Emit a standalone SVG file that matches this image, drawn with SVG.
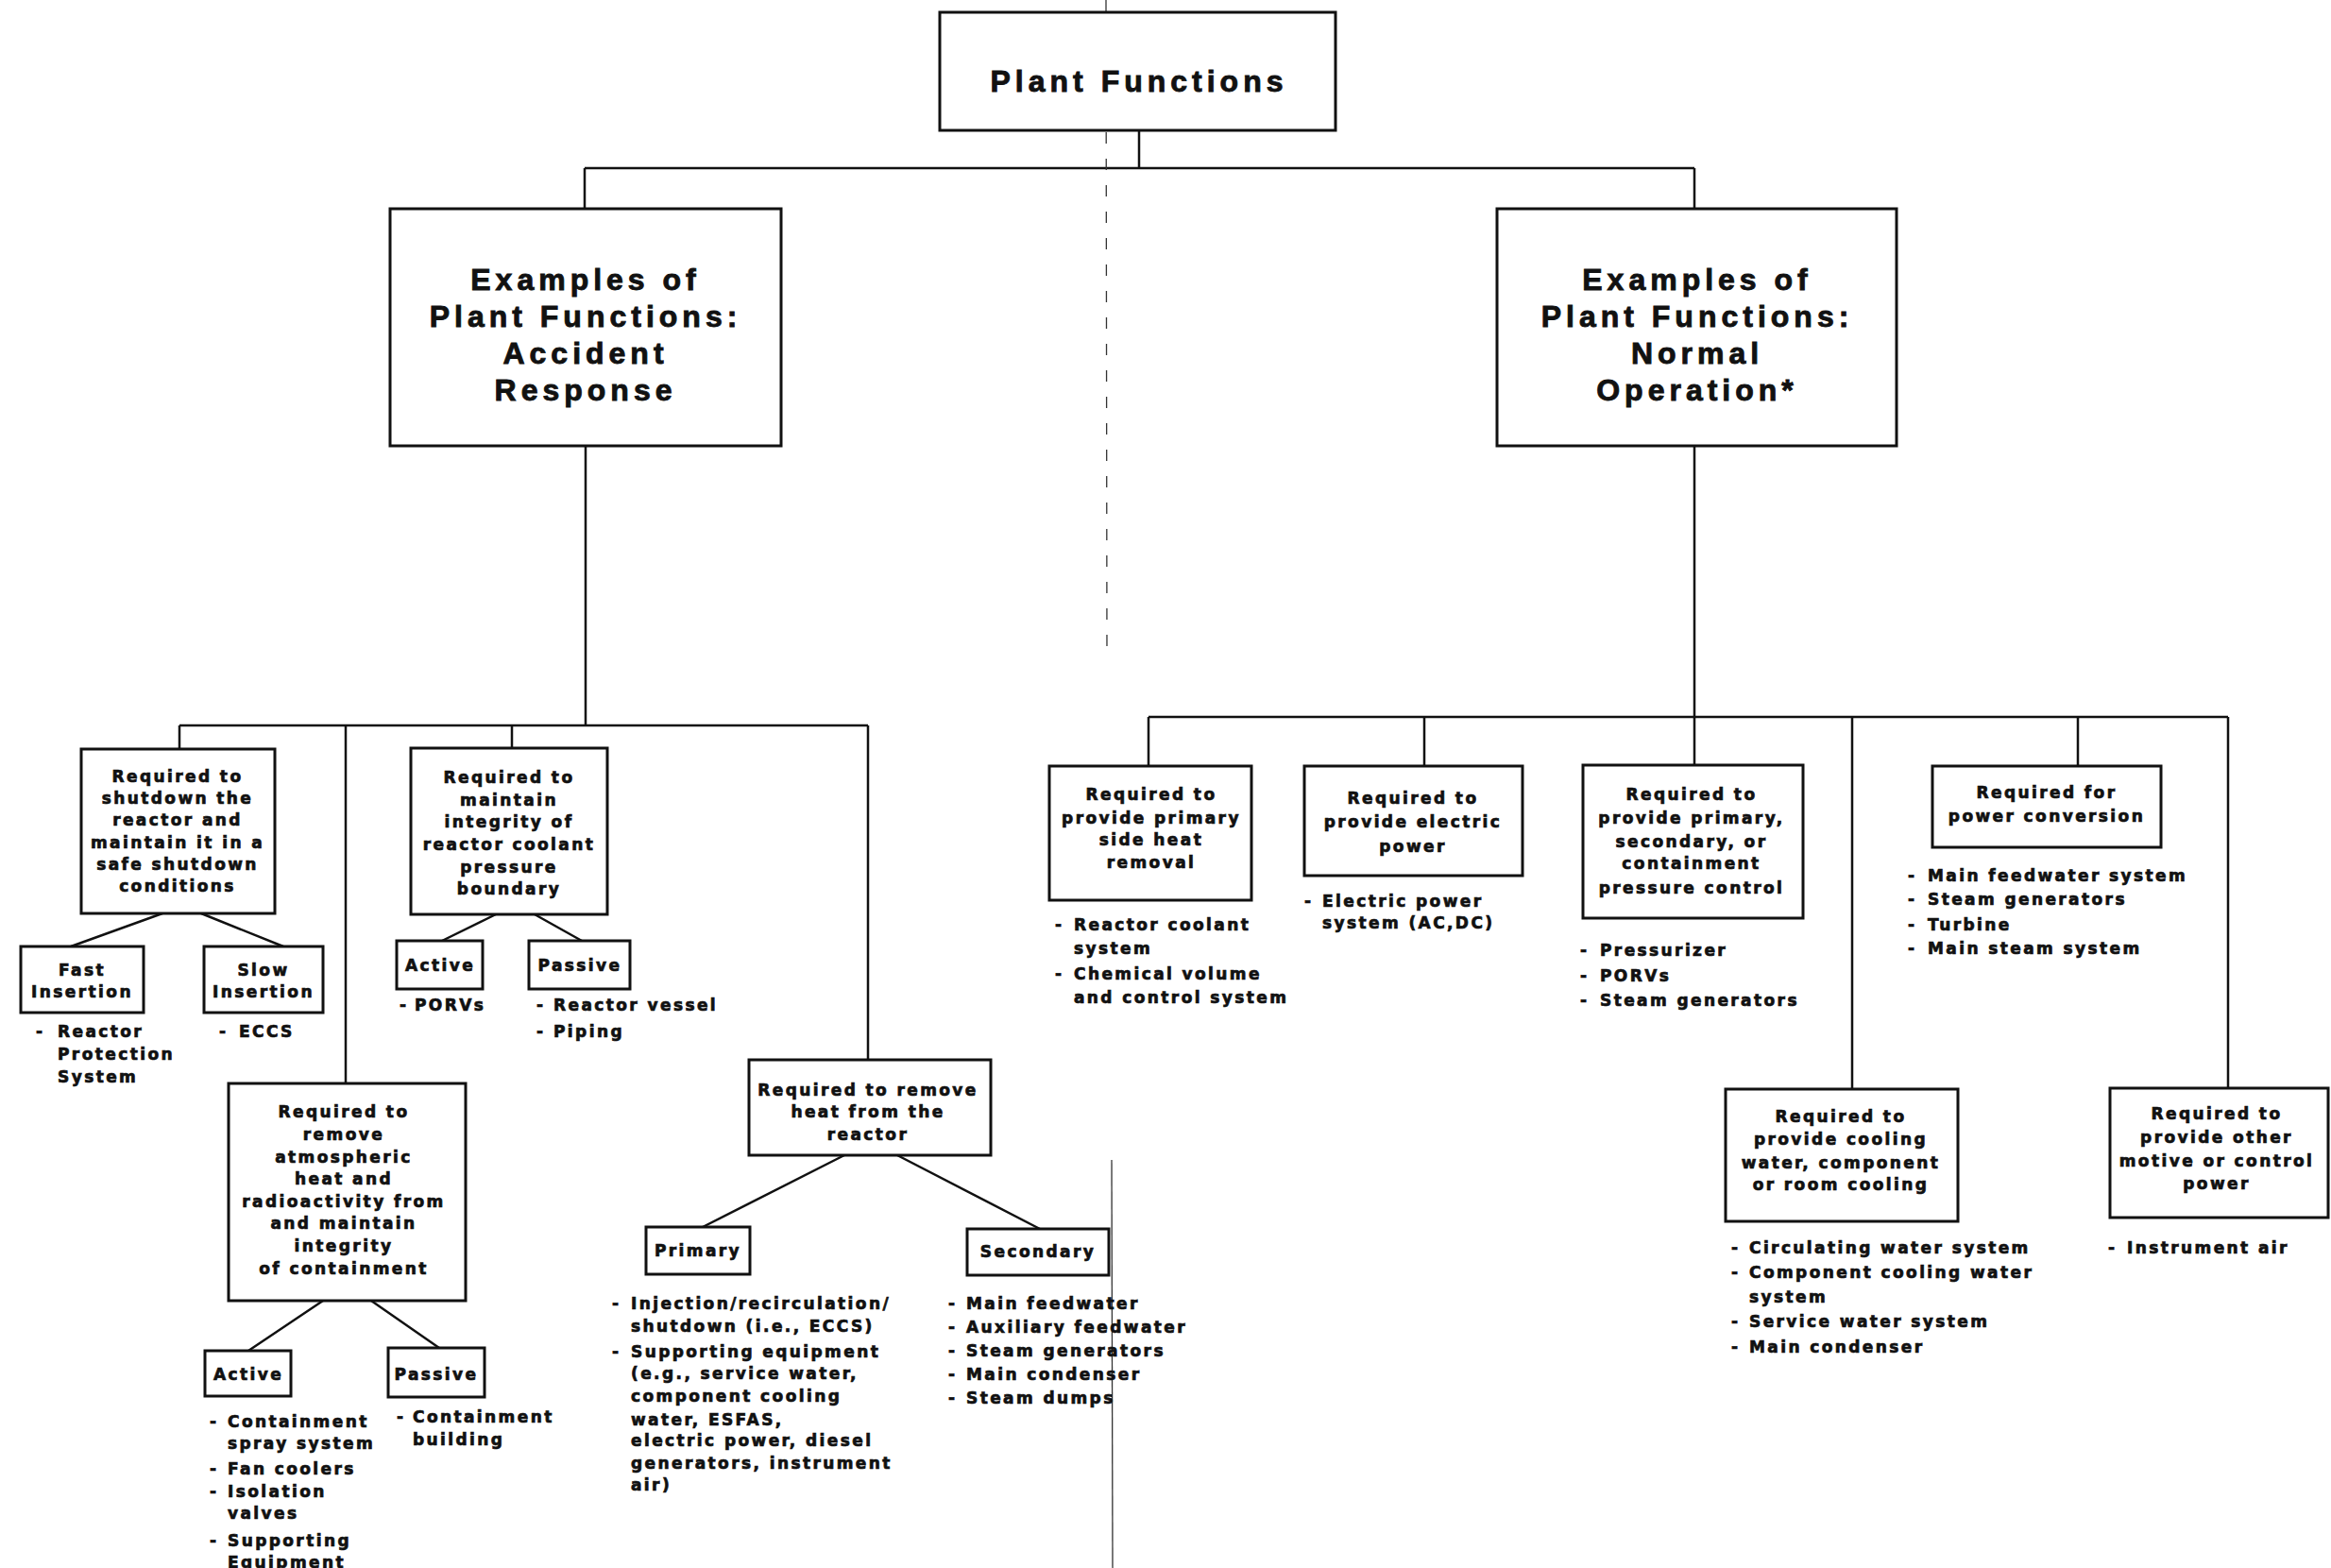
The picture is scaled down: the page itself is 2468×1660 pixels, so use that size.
<svg xmlns="http://www.w3.org/2000/svg" width="2468" height="1660" viewBox="0 0 2468 1660">
  <style>
    .box { fill: #fff; stroke: #111; stroke-width: 3; }
    .ln { fill: none; stroke: #111; stroke-width: 2.5; }
    .fold { fill: none; stroke: #333; stroke-width: 1.3; }
    .h { font-family: "Liberation Sans", Arial, Helvetica, sans-serif; font-weight: bold; font-size: 32px; letter-spacing: 5px; text-anchor: middle; fill: #111; stroke: #111; stroke-width: 0.9; }
    .t { font-family: "DejaVu Sans", "Liberation Sans", sans-serif; font-weight: bold; font-size: 17px; letter-spacing: 2.4px; fill: #111; stroke: #111; stroke-width: 0.7; }
    .c { text-anchor: middle; }
  </style>

  <rect x="0" y="0" width="2468" height="1660" fill="#fff"/>

  <!-- connectors -->
  <g id="connectors" class="ln">
    <!-- root to the two branches -->
    <path d="M1206 138 V178 M619 178 H1794 M619 178 V221 M1794 178 V221"/>
    <!-- accident response tree -->
    <path d="M620 472 V768 M190 768 H919 M190 768 V793 M366 768 V1147 M542 768 V792 M919 768 V1122"/>
    <path d="M172 967 L75 1002 M213 967 L300 1002"/>
    <path d="M525 968 L468 996 M566 968 L616 996"/>
    <path d="M342 1377 L263 1430 M393 1377 L465 1427"/>
    <path d="M894 1223 L744 1299 M950 1223 L1101 1301"/>
    <!-- normal operation tree -->
    <path d="M1794 472 V810 M1216 759 H2359 M1216 759 V811 M1508 759 V811 M1961 759 V1153 M2200 759 V811 M2359 759 V1152"/>
  </g>

  <!-- page fold running down the sheet -->
  <g id="fold-line" class="fold">
    <path d="M1171 0 L1172 700" stroke-dasharray="12 16"/>
    <path d="M1177 1228 L1178 1660"/>
  </g>

  <!-- top level -->
  <g id="plant-functions">
    <rect class="box" x="995" y="13" width="419" height="125"/>
    <text class="h" x="1206" y="97">Plant Functions</text>
  </g>

  <g id="accident-response">
    <rect class="box" x="413" y="221" width="414" height="251"/>
    <text class="h" x="620" y="307">Examples of</text>
    <text class="h" x="620" y="346">Plant Functions:</text>
    <text class="h" x="620" y="385">Accident</text>
    <text class="h" x="620" y="424">Response</text>
  </g>

  <g id="normal-operation">
    <rect class="box" x="1585" y="221" width="423" height="251"/>
    <text class="h" x="1797" y="307">Examples of</text>
    <text class="h" x="1797" y="346">Plant Functions:</text>
    <text class="h" x="1797" y="385">Normal</text>
    <text class="h" x="1797" y="424">Operation*</text>
  </g>

  <!-- accident response functions -->
  <g id="shutdown-reactor">
    <rect class="box" x="86" y="793" width="205" height="174"/>
    <text class="t c" x="188" y="828">Required to</text>
    <text class="t c" x="188" y="851">shutdown the</text>
    <text class="t c" x="188" y="874">reactor and</text>
    <text class="t c" x="188" y="898">maintain it in a</text>
    <text class="t c" x="188" y="921">safe shutdown</text>
    <text class="t c" x="188" y="944">conditions</text>
  </g>

  <g id="fast-insertion">
    <rect class="box" x="22" y="1002" width="130" height="70"/>
    <text class="t c" x="87" y="1033">Fast</text>
    <text class="t c" x="87" y="1056">Insertion</text>
    <text class="t" x="38" y="1098">-</text>
    <text class="t" x="61" y="1098">Reactor</text>
    <text class="t" x="61" y="1122">Protection</text>
    <text class="t" x="61" y="1146">System</text>
  </g>

  <g id="slow-insertion">
    <rect class="box" x="216" y="1002" width="126" height="70"/>
    <text class="t c" x="279" y="1033">Slow</text>
    <text class="t c" x="279" y="1056">Insertion</text>
    <text class="t" x="232" y="1098">-</text>
    <text class="t" x="253" y="1098">ECCS</text>
  </g>

  <g id="coolant-boundary">
    <rect class="box" x="435" y="792" width="208" height="176"/>
    <text class="t c" x="539" y="829">Required to</text>
    <text class="t c" x="539" y="853">maintain</text>
    <text class="t c" x="539" y="876">integrity of</text>
    <text class="t c" x="539" y="900">reactor coolant</text>
    <text class="t c" x="539" y="924">pressure</text>
    <text class="t c" x="539" y="947">boundary</text>
  </g>

  <g id="boundary-active">
    <rect class="box" x="420" y="996" width="91" height="51"/>
    <text class="t c" x="466" y="1028">Active</text>
    <text class="t" x="423" y="1070">-</text>
    <text class="t" x="439" y="1070">PORVs</text>
  </g>

  <g id="boundary-passive">
    <rect class="box" x="560" y="996" width="107" height="51"/>
    <text class="t c" x="614" y="1028">Passive</text>
    <text class="t" x="568" y="1070">-</text>
    <text class="t" x="586" y="1070">Reactor vessel</text>
    <text class="t" x="568" y="1098">-</text>
    <text class="t" x="586" y="1098">Piping</text>
  </g>

  <g id="containment">
    <rect class="box" x="242" y="1147" width="251" height="230"/>
    <text class="t c" x="364" y="1183">Required to</text>
    <text class="t c" x="364" y="1207">remove</text>
    <text class="t c" x="364" y="1231">atmospheric</text>
    <text class="t c" x="364" y="1254">heat and</text>
    <text class="t c" x="364" y="1278">radioactivity from</text>
    <text class="t c" x="364" y="1301">and maintain</text>
    <text class="t c" x="364" y="1325">integrity</text>
    <text class="t c" x="364" y="1349">of containment</text>
  </g>

  <g id="containment-active">
    <rect class="box" x="217" y="1430" width="91" height="48"/>
    <text class="t c" x="263" y="1461">Active</text>
    <text class="t" x="222" y="1511">-</text>
    <text class="t" x="241" y="1511">Containment</text>
    <text class="t" x="241" y="1534">spray system</text>
    <text class="t" x="222" y="1561">-</text>
    <text class="t" x="241" y="1561">Fan coolers</text>
    <text class="t" x="222" y="1585">-</text>
    <text class="t" x="241" y="1585">Isolation</text>
    <text class="t" x="241" y="1608">valves</text>
    <text class="t" x="222" y="1637">-</text>
    <text class="t" x="241" y="1637">Supporting</text>
    <text class="t" x="241" y="1660">Equipment</text>
  </g>

  <g id="containment-passive">
    <rect class="box" x="411" y="1427" width="102" height="52"/>
    <text class="t c" x="462" y="1461">Passive</text>
    <text class="t" x="420" y="1506">-</text>
    <text class="t" x="437" y="1506">Containment</text>
    <text class="t" x="437" y="1530">building</text>
  </g>

  <g id="remove-heat">
    <rect class="box" x="793" y="1122" width="256" height="101"/>
    <text class="t c" x="919" y="1160">Required to remove</text>
    <text class="t c" x="919" y="1183">heat from the</text>
    <text class="t c" x="919" y="1207">reactor</text>
  </g>

  <g id="heat-primary">
    <rect class="box" x="684" y="1299" width="110" height="50"/>
    <text class="t c" x="739" y="1330">Primary</text>
    <text class="t" x="648" y="1386">-</text>
    <text class="t" x="668" y="1386">Injection/recirculation/</text>
    <text class="t" x="668" y="1410">shutdown (i.e., ECCS)</text>
    <text class="t" x="648" y="1437">-</text>
    <text class="t" x="668" y="1437">Supporting equipment</text>
    <text class="t" x="668" y="1460">(e.g., service water,</text>
    <text class="t" x="668" y="1484">component cooling</text>
    <text class="t" x="668" y="1509">water, ESFAS,</text>
    <text class="t" x="668" y="1531">electric power, diesel</text>
    <text class="t" x="668" y="1555">generators, instrument</text>
    <text class="t" x="668" y="1578">air)</text>
  </g>

  <g id="heat-secondary">
    <rect class="box" x="1024" y="1301" width="150" height="49"/>
    <text class="t c" x="1099" y="1331">Secondary</text>
    <text class="t" x="1004" y="1386">-</text>
    <text class="t" x="1023" y="1386">Main feedwater</text>
    <text class="t" x="1004" y="1411">-</text>
    <text class="t" x="1023" y="1411">Auxiliary feedwater</text>
    <text class="t" x="1004" y="1436">-</text>
    <text class="t" x="1023" y="1436">Steam generators</text>
    <text class="t" x="1004" y="1461">-</text>
    <text class="t" x="1023" y="1461">Main condenser</text>
    <text class="t" x="1004" y="1486">-</text>
    <text class="t" x="1023" y="1486">Steam dumps</text>
  </g>

  <!-- normal operation functions -->
  <g id="primary-heat-removal">
    <rect class="box" x="1111" y="811" width="214" height="142"/>
    <text class="t c" x="1219" y="847">Required to</text>
    <text class="t c" x="1219" y="872">provide primary</text>
    <text class="t c" x="1219" y="895">side heat</text>
    <text class="t c" x="1219" y="919">removal</text>
    <text class="t" x="1117" y="985">-</text>
    <text class="t" x="1137" y="985">Reactor coolant</text>
    <text class="t" x="1137" y="1010">system</text>
    <text class="t" x="1117" y="1037">-</text>
    <text class="t" x="1137" y="1037">Chemical volume</text>
    <text class="t" x="1137" y="1062">and control system</text>
  </g>

  <g id="electric-power">
    <rect class="box" x="1381" y="811" width="231" height="116"/>
    <text class="t c" x="1496" y="851">Required to</text>
    <text class="t c" x="1496" y="876">provide electric</text>
    <text class="t c" x="1496" y="902">power</text>
    <text class="t" x="1381" y="960">-</text>
    <text class="t" x="1400" y="960">Electric power</text>
    <text class="t" x="1400" y="983">system (AC,DC)</text>
  </g>

  <g id="pressure-control">
    <rect class="box" x="1676" y="810" width="233" height="162"/>
    <text class="t c" x="1791" y="847">Required to</text>
    <text class="t c" x="1791" y="872">provide primary,</text>
    <text class="t c" x="1791" y="897">secondary, or</text>
    <text class="t c" x="1791" y="920">containment</text>
    <text class="t c" x="1791" y="946">pressure control</text>
    <text class="t" x="1673" y="1012">-</text>
    <text class="t" x="1694" y="1012">Pressurizer</text>
    <text class="t" x="1673" y="1039">-</text>
    <text class="t" x="1694" y="1039">PORVs</text>
    <text class="t" x="1673" y="1065">-</text>
    <text class="t" x="1694" y="1065">Steam generators</text>
  </g>

  <g id="power-conversion">
    <rect class="box" x="2046" y="811" width="242" height="86"/>
    <text class="t c" x="2167" y="845">Required for</text>
    <text class="t c" x="2167" y="870">power conversion</text>
    <text class="t" x="2020" y="933">-</text>
    <text class="t" x="2041" y="933">Main feedwater system</text>
    <text class="t" x="2020" y="958">-</text>
    <text class="t" x="2041" y="958">Steam generators</text>
    <text class="t" x="2020" y="985">-</text>
    <text class="t" x="2041" y="985">Turbine</text>
    <text class="t" x="2020" y="1010">-</text>
    <text class="t" x="2041" y="1010">Main steam system</text>
  </g>

  <g id="cooling-water">
    <rect class="box" x="1827" y="1153" width="246" height="140"/>
    <text class="t c" x="1949" y="1188">Required to</text>
    <text class="t c" x="1949" y="1212">provide cooling</text>
    <text class="t c" x="1949" y="1237">water, component</text>
    <text class="t c" x="1949" y="1260">or room cooling</text>
    <text class="t" x="1833" y="1327">-</text>
    <text class="t" x="1852" y="1327">Circulating water system</text>
    <text class="t" x="1833" y="1353">-</text>
    <text class="t" x="1852" y="1353">Component cooling water</text>
    <text class="t" x="1852" y="1379">system</text>
    <text class="t" x="1833" y="1405">-</text>
    <text class="t" x="1852" y="1405">Service water system</text>
    <text class="t" x="1833" y="1432">-</text>
    <text class="t" x="1852" y="1432">Main condenser</text>
  </g>

  <g id="motive-power">
    <rect class="box" x="2234" y="1152" width="231" height="137"/>
    <text class="t c" x="2347" y="1185">Required to</text>
    <text class="t c" x="2347" y="1210">provide other</text>
    <text class="t c" x="2347" y="1235">motive or control</text>
    <text class="t c" x="2347" y="1259">power</text>
    <text class="t" x="2232" y="1327">-</text>
    <text class="t" x="2252" y="1327">Instrument air</text>
  </g>
</svg>
